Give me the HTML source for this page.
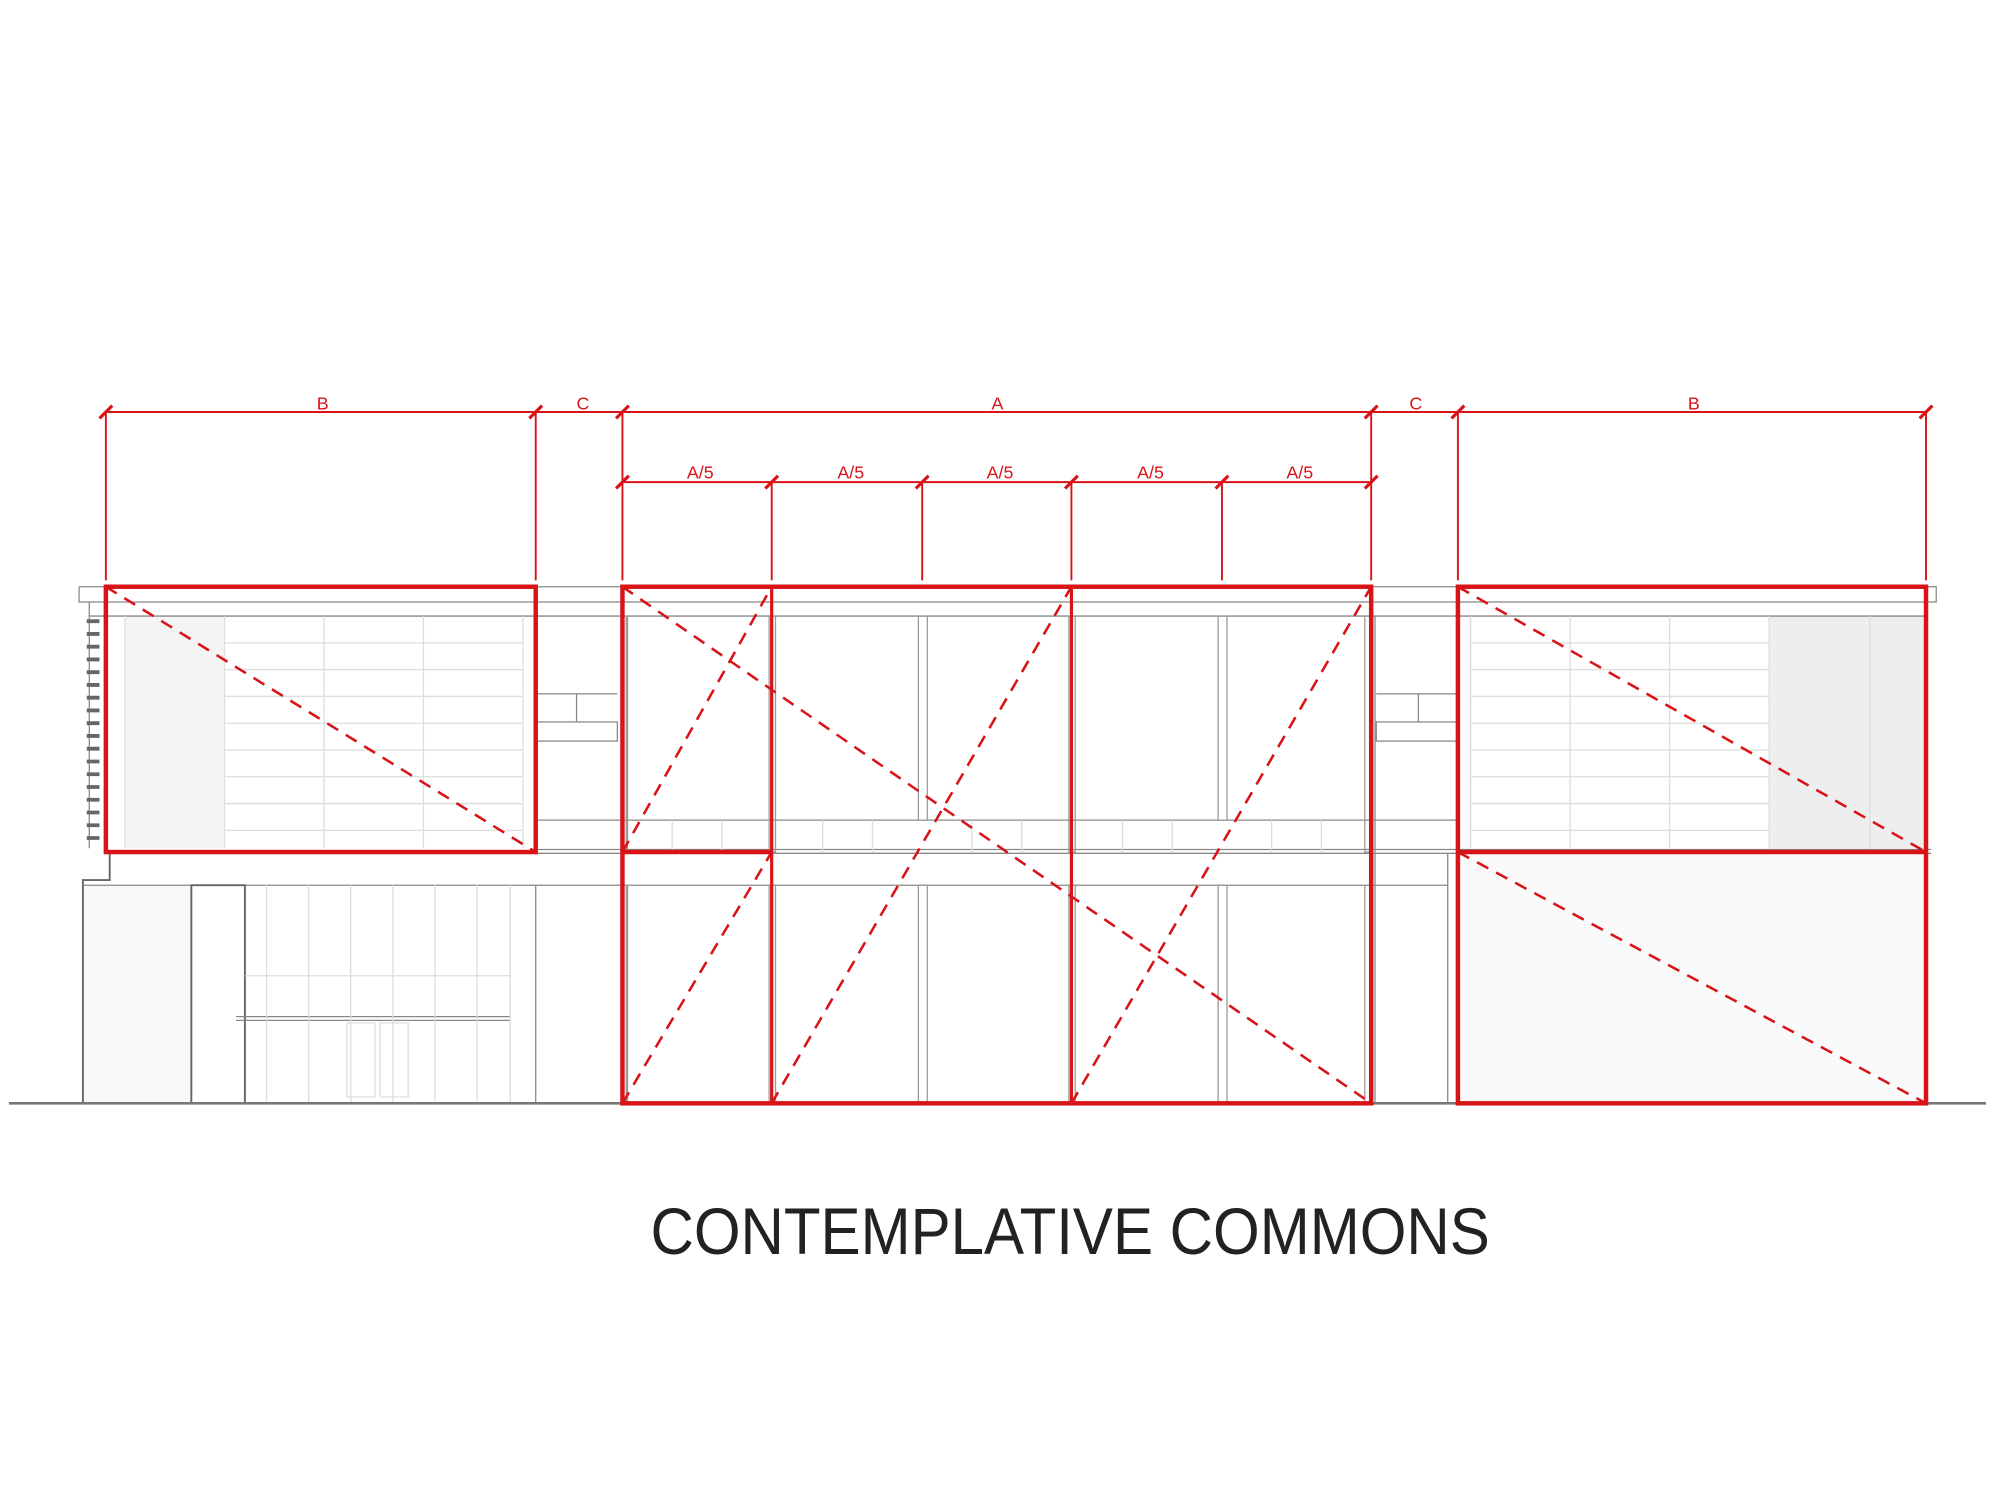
<!DOCTYPE html>
<html><head><meta charset="utf-8"><style>html,body{margin:0;padding:0;background:#fff}svg{display:block}</style></head>
<body>
<svg width="2000" height="1500" viewBox="0 0 1568 1176" xmlns="http://www.w3.org/2000/svg">
<rect width="1568" height="1176" fill="#fff"/>
<rect x="98" y="483" width="78" height="182" fill="#f4f4f4"/>
<rect x="1387" y="483" width="123" height="182" fill="#eeeeee"/>
<rect x="1143" y="669" width="367" height="196" fill="#fafafa"/>
<rect x="65" y="694" width="85" height="171" fill="#f8f8f8"/>
<!-- building grey -->
<g fill="none" stroke="#888" stroke-width="1">
<path d="M62 460 H1518 V472 H1510 M62 460 V472 H70 V483 M62 472 H1510"/>
<line x1="70" y1="483" x2="1510" y2="483"/>
<line x1="70" y1="483" x2="70" y2="665"/>
<line x1="420" y1="666" x2="1514" y2="666"/>
<line x1="420" y1="669" x2="1514" y2="669"/>
<path d="M86 668 V690 H65 V865" stroke="#666" stroke-width="1.5"/>
<line x1="65" y1="694" x2="1135" y2="694"/>
<rect x="150" y="694" width="42" height="171" stroke="#666" stroke-width="1.5"/>
<line x1="420" y1="694" x2="420" y2="865"/>
<line x1="1078" y1="483" x2="1078" y2="865"/>
<line x1="1135" y1="669" x2="1135" y2="865"/>
<rect x="421" y="566" width="63" height="15"/>
<rect x="1079" y="566" width="63" height="15"/>
<line x1="452" y1="544" x2="452" y2="566"/><line x1="421" y1="544" x2="484" y2="544"/>
<line x1="1112" y1="544" x2="1112" y2="566"/><line x1="1079" y1="544" x2="1142" y2="544"/>
<line x1="420" y1="643" x2="1142" y2="643"/>
<g stroke="#999">
<rect x="603" y="483" width="5" height="185"/><rect x="720" y="483" width="7" height="160"/><rect x="838" y="483" width="5" height="185"/><rect x="955" y="483" width="7" height="160"/><rect x="491" y="483" width="1" height="185"/><rect x="1070" y="483" width="5" height="185"/>
<rect x="603" y="694" width="5" height="171"/><rect x="720" y="694" width="7" height="171"/><rect x="838" y="694" width="5" height="171"/><rect x="955" y="694" width="7" height="171"/><rect x="491" y="694" width="1" height="171"/><rect x="1070" y="694" width="5" height="171"/>
</g>
<line x1="185" y1="797" x2="400" y2="797"/><line x1="185" y1="800" x2="400" y2="800"/>
</g>
<g stroke="#ddd" stroke-width="1" fill="none">
<path d="M98 483 V665 M176 483 V665 M254 483 V665 M332 483 V665 M410 483 V665"/>
<path d="M176 504 H410 M176 525 H410 M176 546 H410 M176 567 H410 M176 588 H410 M176 609 H410 M176 630 H410 M176 651 H410"/>
<path d="M1153 483 V665 M1231 483 V665 M1309 483 V665 M1387 483 V665 M1466 483 V665"/>
<path d="M1153 504 H1387 M1153 525 H1387 M1153 546 H1387 M1153 567 H1387 M1153 588 H1387 M1153 609 H1387 M1153 630 H1387 M1153 651 H1387"/>
<path d="M209 694 V865 M242 694 V865 M275 694 V865 M308 694 V865 M341 694 V865 M374 694 V865 M192 765 H400 M400 694 V865"/>
<rect x="272" y="802" width="22" height="58"/><rect x="298" y="802" width="22" height="58"/>
<path d="M527 643 V668 M566 643 V668 M645 643 V668 M684 643 V668 M762 643 V668 M801 643 V668 M880 643 V668 M919 643 V668 M997 643 V668 M1036 643 V668"/>
</g>
<g stroke="#666" stroke-width="3"><path d="M68 487 H78 M68 497 H78 M68 507 H78 M68 517 H78 M68 527 H78 M68 537 H78 M68 547 H78 M68 557 H78 M68 567 H78 M68 577 H78 M68 587 H78 M68 597 H78 M68 607 H78 M68 617 H78 M68 627 H78 M68 637 H78 M68 647 H78 M68 657 H78"/></g>
<line x1="7" y1="865" x2="1557" y2="865" stroke="#777" stroke-width="2"/>
<!-- red frames -->
<g fill="none" stroke="#d81418" stroke-width="3.5">
<rect x="83" y="460" width="337" height="208"/>
<rect x="488" y="460" width="587" height="405"/>
<rect x="1143" y="460" width="367" height="405"/>
<line x1="1143" y1="668" x2="1510" y2="668"/>
<line x1="488" y1="668" x2="605" y2="668"/>
<line x1="605" y1="460" x2="605" y2="865" stroke-width="2.5"/>
<line x1="840" y1="460" x2="840" y2="865" stroke-width="2.5"/>
</g>
<g fill="none" stroke="#d81418" stroke-width="2" stroke-dasharray="10 7">
<line x1="83" y1="460" x2="420" y2="668"/>
<line x1="1143" y1="460" x2="1510" y2="668"/>
<line x1="1143" y1="668" x2="1510" y2="865"/>
<line x1="488" y1="460" x2="1075" y2="865"/>
<line x1="488" y1="668" x2="605" y2="460"/>
<line x1="488" y1="865" x2="605" y2="668"/>
<line x1="605" y1="865" x2="840" y2="460"/>
<line x1="840" y1="865" x2="1075" y2="460"/>
</g>
<!-- dimensions -->
<g stroke="#d81418" stroke-width="1.5" fill="none">
<line x1="83" y1="323" x2="1510" y2="323"/>
<line x1="488" y1="378" x2="1075" y2="378"/>
<path d="M83 323 V455 M420 323 V455 M488 323 V455 M1075 323 V455 M1143 323 V455 M1510 323 V455 M605 378 V455 M723 378 V455 M840 378 V455 M958 378 V455"/>
</g>
<g stroke="#d81418" stroke-width="2.5">
<path d="M78 328 L88 318 M415 328 L425 318 M483 328 L493 318 M1070 328 L1080 318 M1138 328 L1148 318 M1505 328 L1515 318"/>
<path d="M483 383 L493 373 M600 383 L610 373 M718 383 L728 373 M835 383 L845 373 M953 383 L963 373 M1070 383 L1080 373"/>
</g>
<g fill="#d81418" font-family="Liberation Sans, sans-serif" font-size="14" text-anchor="middle">
<text x="253" y="321">B</text><text x="457" y="321">C</text><text x="782" y="321">A</text><text x="1110" y="321">C</text><text x="1328" y="321">B</text>
<text x="549" y="375">A/5</text><text x="667" y="375">A/5</text><text x="784" y="375">A/5</text><text x="902" y="375">A/5</text><text x="1019" y="375">A/5</text>
</g>
<text x="839" y="983" font-family="Liberation Sans, sans-serif" font-size="52" text-anchor="middle" fill="#222" textLength="658" lengthAdjust="spacingAndGlyphs">CONTEMPLATIVE COMMONS</text>
</svg>
</body></html>
